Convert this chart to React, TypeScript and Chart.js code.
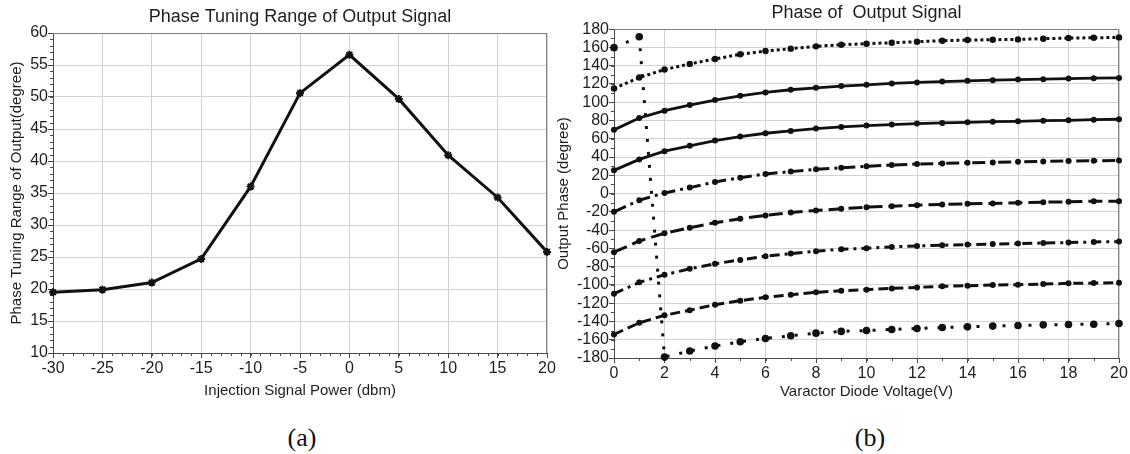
import React, { useEffect, useRef } from 'react';
import { Chart, registerables } from 'chart.js';

Chart.register(...registerables);

// ---------- data: chart (a) ----------
const powerDbm = [-30, -25, -20, -15, -10, -5, 0, 5, 10, 15, 20];
const tuningRange = [19.5, 19.9, 21.0, 24.7, 36.0, 50.6, 56.6, 49.7, 40.9, 34.3, 25.8];

// ---------- data: chart (b) ----------
const voltage = [0, 1, 2, 3, 4, 5, 6, 7, 8, 9, 10, 11, 12, 13, 14, 15, 16, 17, 18, 19, 20];
const phase115 = [115, 127, 135.7, 141.9, 147.3, 152.4, 156, 158.6, 161.1, 162.9, 164, 165.1, 166.2, 167.3, 168, 168.4, 168.7, 169.5, 170.2, 170.5, 170.9];
const phase70 = [69.7, 82.7, 90.7, 96.9, 102.3, 107, 110.7, 113.6, 115.7, 117.6, 119, 120.5, 121.6, 122.6, 123.4, 124.1, 124.8, 125.2, 125.9, 126.3, 126.6];
const phase25 = [25.4, 37.4, 46.4, 52.2, 58, 62.4, 66, 68.6, 71.1, 72.9, 74.4, 75.5, 76.6, 77.3, 78, 78.7, 79.1, 79.8, 80.2, 80.9, 81.3];
const phaseM20 = [-20, -7.3, 0.7, 6.5, 12.7, 17.4, 21.4, 24, 26.5, 28.3, 29.8, 31.2, 32.3, 33, 33.7, 34.1, 34.8, 35.2, 35.6, 35.9, 36.3];
const phaseM65 = [-64.2, -51.9, -43.5, -37.4, -31.9, -27.6, -23.9, -20.7, -18.5, -16.7, -14.9, -13.8, -12.7, -12, -11.2, -10.9, -10.2, -9.4, -9.1, -8.3, -8.3];
const phaseM110 = [-109.6, -97.2, -88.9, -82.4, -76.9, -72.6, -68.6, -65.7, -63.1, -61, -59.9, -58.4, -57.3, -56.6, -55.9, -55.2, -54.8, -54.1, -53.7, -53, -52.6];
const phaseM155 = [-154.2, -141.5, -133.2, -127.7, -121.6, -117.2, -113.6, -110.7, -108.1, -106.3, -105.2, -103.8, -102.7, -101.6, -100.9, -100.1, -99.8, -99.1, -98.3, -98, -97.6];
const phaseWrap = [159.7, 171.6, -179, -172.4, -166.9, -162.2, -158.6, -155.7, -152.8, -150.9, -149.9, -148.8, -147.7, -146.6, -145.9, -145.1, -144.4, -143.7, -143.3, -143, -142.2];

const FONT = "'Liberation Sans', Arial, Helvetica, sans-serif";
const TEXT = '#1e1e1e';
const AXIS = '#4a4a4a';
const GRID = '#d2d2d2';

const frameMinor = {
  id: 'frameMinor',
  beforeDatasetsDraw(chart: any, _args: any, opts: any) {
    const { ctx, chartArea: a } = chart;
    ctx.save();
    ctx.lineWidth = 1;
    ctx.strokeStyle = '#808080';
    ctx.beginPath();
    ctx.moveTo(a.left, Math.round(a.top) + 0.5);
    ctx.lineTo(a.right, Math.round(a.top) + 0.5);
    ctx.moveTo(Math.round(a.right) - 0.5, a.top);
    ctx.lineTo(Math.round(a.right) - 0.5, a.bottom);
    ctx.stroke();
    ctx.strokeStyle = AXIS;
    ctx.beginPath();
    const xs = chart.scales.x;
    const ys = chart.scales.y;
    for (let i = 0; ; i++) {
      const v = xs.min + i * opts.xStep;
      if (v > xs.max + 1e-9) break;
      const px = Math.round(xs.getPixelForValue(v)) + 0.5;
      ctx.moveTo(px, a.bottom);
      ctx.lineTo(px, a.bottom + 3);
    }
    for (let i = 0; ; i++) {
      const v = ys.min + i * opts.yStep;
      if (v > ys.max + 1e-9) break;
      const py = Math.round(ys.getPixelForValue(v)) + 0.5;
      ctx.moveTo(a.left, py);
      ctx.lineTo(a.left - 3, py);
    }
    ctx.stroke();
    ctx.restore();
  },
};

function pts(xs: number[], ys: number[]) {
  return xs.map((x, i) => ({ x, y: ys[i] }));
}

function axis(min: number, max: number, step: number, title: string, titlePad: any, size: number, isX: boolean) {
  return {
    type: 'linear',
    min,
    max,
    ticks: {
      stepSize: step,
      color: TEXT,
      font: { family: FONT, size: 16 },
      padding: isX ? 1 : 0,
      maxRotation: 0,
      autoSkip: false,
    },
    grid: { color: GRID, tickColor: AXIS, tickLength: 5, lineWidth: 1 },
    border: { color: AXIS, width: 1 },
    title: {
      display: true,
      text: title,
      color: TEXT,
      font: { family: FONT, size: 15 },
      padding: titlePad,
    },
    afterFit: (s: any) => {
      if (isX) s.height = size;
      else s.width = size;
    },
  };
}

function titleOpt(text: string, top: number, bottom: number) {
  return {
    display: true,
    text,
    color: TEXT,
    fullSize: false,
    font: { family: FONT, size: 18, weight: 'normal' },
    padding: { top, bottom },
  };
}

const configA = () => ({
  type: 'line',
  data: {
    datasets: [
      {
        data: pts(powerDbm, tuningRange),
        borderColor: '#111',
        borderWidth: 3,
        pointStyle: 'star',
        pointRadius: 4,
        pointBorderWidth: 2,
        pointBorderColor: '#111',
        pointBackgroundColor: '#111',
        tension: 0,
        clip: false,
      },
    ],
  },
  options: {
    animation: false,
    responsive: false,
    layout: { padding: { left: 0, right: 13, top: 0, bottom: 0 } },
    plugins: {
      legend: { display: false },
      tooltip: { enabled: false },
      title: titleOpt('Phase Tuning Range of Output Signal', 6, 5.4),
      frameMinor: { xStep: 1, yStep: 1 },
    },
    scales: {
      x: axis(-30, 20, 5, 'Injection Signal Power (dbm)', { top: 0, bottom: 10 }, 57, true),
      y: axis(10, 60, 5, 'Phase Tuning Range of Output(degree)', { top: 8, bottom: 0 }, 53, false),
    },
  },
  plugins: [frameMinor],
});

function curve(ys: number[], dash: number[], width: number, radius: number) {
  return {
    data: pts(voltage, ys),
    borderColor: '#111',
    borderWidth: width,
    borderDash: dash,
    pointStyle: 'circle',
    pointRadius: radius,
    pointBorderWidth: 0,
    pointBackgroundColor: '#111',
    tension: 0,
    clip: false,
  };
}

const configB = () => ({
  type: 'line',
  data: {
    datasets: [
      curve(phase115, [3, 3], 3, 3.2),
      curve(phase70, [], 2.8, 3),
      curve(phase25, [], 2.8, 3),
      curve(phaseM20, [13, 5, 3, 5], 3, 3),
      curve(phaseM65, [14, 6], 3, 3),
      curve(phaseM110, [10, 5, 3, 5], 3, 3),
      curve(phaseM155, [10, 5], 3, 3),
      curve(phaseWrap, [3, 10], 3, 3.8),
    ],
  },
  options: {
    animation: false,
    responsive: false,
    layout: { padding: { left: 0, right: 11, top: 0, bottom: 0 } },
    plugins: {
      legend: { display: false },
      tooltip: { enabled: false },
      title: titleOpt('Phase of  Output Signal', 2.5, 5),
      frameMinor: { xStep: 1, yStep: 10 },
    },
    scales: {
      x: axis(0, 20, 2, 'Varactor Diode Voltage(V)', { top: 0, bottom: 9 }, 52, true),
      y: axis(-180, 180, 20, 'Output Phase (degree)', { top: 5, bottom: 0 }, 64, false),
    },
  },
  plugins: [frameMinor],
});

function ChartCanvas({ left, width, height, make }: { left: number; width: number; height: number; make: () => any }) {
  const ref = useRef<HTMLCanvasElement | null>(null);
  useEffect(() => {
    if (!ref.current) return;
    const chart = new Chart(ref.current, make());
    return () => chart.destroy();
  }, []);
  return (
    <canvas
      ref={ref}
      width={width}
      height={height}
      style={{ position: 'absolute', left, top: 0, width, height, display: 'block' }}
    />
  );
}

export default function App() {
  const caption: React.CSSProperties = {
    position: 'absolute',
    top: 423,
    width: 100,
    textAlign: 'center',
    fontFamily: "'Liberation Serif', 'Times New Roman', serif",
    fontSize: 26,
    lineHeight: '30px',
    color: '#111',
  };
  return (
    <div style={{ position: 'absolute', left: 0, top: 0, width: 1130, height: 454, background: '#fff', overflow: 'hidden' }}>
      <ChartCanvas left={0} width={560} height={410} make={configA} />
      <ChartCanvas left={550} width={580} height={410} make={configB} />
      <div style={{ ...caption, left: 302 - 50 }}>(a)</div>
      <div style={{ ...caption, left: 870 - 50 }}>(b)</div>
    </div>
  );
}
